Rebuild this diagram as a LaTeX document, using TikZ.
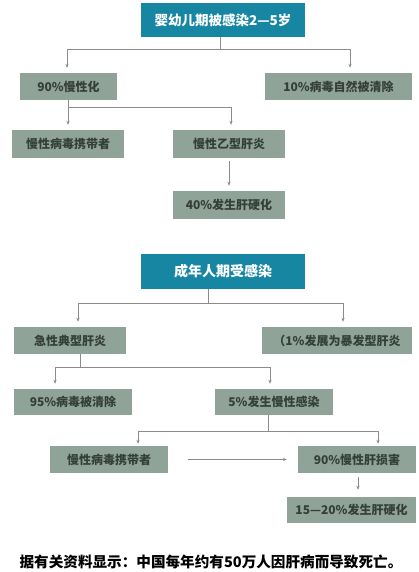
\documentclass[tikz,border=0pt]{standalone}
\usepackage{fontspec}
\newfontfamily\cjk{Noto Sans CJK SC}
\usetikzlibrary{arrows.meta,calc}
\definecolor{teal1}{HTML}{1786A3}
\definecolor{sage}{HTML}{8FA399}
\definecolor{sagetext}{HTML}{343F3A}
\definecolor{lncol}{HTML}{8C8C8C}
\tikzset{
  headbox/.style={fill=teal1,text=white,font=\cjk\bfseries\fontsize{13.5}{14}\selectfont,inner sep=0pt,minimum width=164pt,minimum height=34pt},
  subbox/.style={fill=sage,text=sagetext,font=\cjk\bfseries\fontsize{12}{13}\selectfont,inner sep=0pt,minimum height=27pt},
  ln/.style={draw=lncol,line width=0.8pt},
  arr/.style={ln,-{Stealth[length=4pt,width=3.2pt]},shorten >=5pt}
}
\begin{document}
\begin{tikzpicture}[x=1pt,y=-1pt]
\useasboundingbox[fill=white] (0,0) rectangle (419,572);
% top part
\node[headbox] (t1) at (223,20) {婴幼儿期被感染2—5岁};
\node[subbox,minimum width=97pt] (a1) at (68.5,86.5) {90\%慢性化};
\node[subbox,minimum width=147pt] (a2) at (338.5,86.5) {10\%病毒自然被清除};
\node[subbox,minimum width=112pt,minimum height=28pt] (b1) at (68,144) {慢性病毒携带者};
\node[subbox,minimum width=112pt,minimum height=28pt] (b2) at (229,144) {慢性乙型肝炎};
\node[subbox,minimum width=112pt,minimum height=28pt] (c1) at (229,205) {40\%发生肝硬化};
% second part
\node[headbox,minimum height=35pt,font=\cjk\bfseries\fontsize{14}{15}\selectfont] (t2) at (223,271.5) {成年人期受感染};
\node[subbox,minimum width=112pt] (d1) at (70,340.5) {急性典型肝炎};
\node[subbox,minimum width=150pt] (d2) at (337,340.5) {（1\%发展为暴发型肝炎};
\node[subbox,minimum width=118pt,minimum height=26pt] (e1) at (73,402) {95\%病毒被清除};
\node[subbox,minimum width=118pt,minimum height=26pt] (e2) at (274,402) {5\%发生慢性感染};
\node[subbox,minimum width=118pt] (f1) at (109,459.5) {慢性病毒携带者};
\node[subbox,minimum width=118pt] (f2) at (357,459.5) {90\%慢性肝损害};
\node[subbox,minimum width=129pt,minimum height=26pt] (g1) at (351.5,510) {15—20\%发生肝硬化};
\node[font=\cjk\bfseries\fontsize{14.6}{16}\selectfont,text=black] (note) at (211,562) {据有关资料显示：中国每年约有50万人因肝病而导致死亡。};
% connectors top
\coordinate (j1) at ($(t1.south)+(-3,12)$);
\draw[ln] ($(t1.south)+(-3,0)$) -- (j1);
\draw[arr] (j1) -| ($(a1.north)+(-1.5,0)$);
\draw[arr] (j1) -| ($(a2.north)+(11.5,0)$);
\coordinate (j2) at ($(a1.south)+(-0.5,7)$);
\draw[ln] ($(a1.south)+(-0.5,0)$) -- (j2);
\draw[arr] (j2) -| (b1.north);
\draw[arr] (j2) -| ($(b2.north)+(2,0)$);
\draw[arr,shorten <=3pt] (b2.south) -- (c1.north);
% connectors second
\coordinate (j3) at ($(t2.south)+(-15,14)$);
\draw[ln] ($(t2.south)+(-15,0)$) -- (j3);
\draw[arr] (j3) -| ($(d1.north)+(8,0)$);
\draw[arr] (j3) -| ($(d2.north)+(6,0)$);
\coordinate (j4) at ($(d1.south)+(10,13)$);
\draw[ln] ($(d1.south)+(10,0)$) -- (j4);
\draw[arr] (j4) -| ($(e1.north)+(-18,0)$);
\draw[arr] (j4) -| ($(e2.north)+(-4,0)$);
\coordinate (j5) at ($(e2.south)+(-6,16)$);
\draw[ln] ($(e2.south)+(-6,0)$) -- (j5);
\draw[arr,shorten >=2pt] (j5) -| ($(f1.north)+(29,0)$);
\draw[arr,shorten >=2pt] (j5) -| ($(f2.north)+(21,0)$);
\draw[arr,shorten <=20pt,shorten >=11pt] (f1.east) -- (f2.west);
\draw[arr,shorten <=4pt,shorten >=7pt] ($(f2.south)+(1,0)$) -- ($(f2.south |- g1.north)+(1,0)$);
\end{tikzpicture}
\end{document}
